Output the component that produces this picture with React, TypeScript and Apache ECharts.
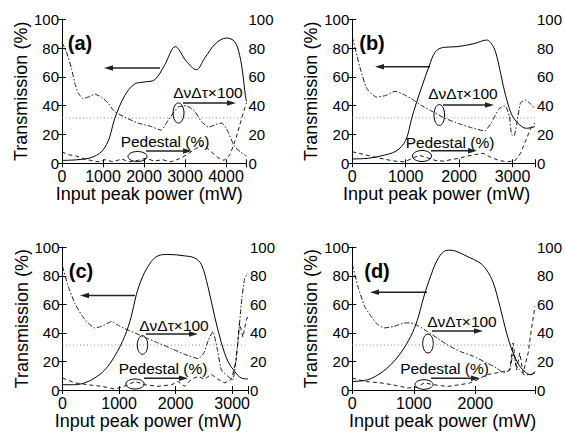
import React, { useEffect, useRef } from 'react';
import * as echarts from 'echarts';

const FONT = '"Liberation Sans", Arial, Helvetica, sans-serif';

// ---------- data ----------
const panelTags = ['(a)', '(b)', '(c)', '(d)'];
const xMaxes = [4500, 3420, 3280, 2970];
const xTicks = [0, 1000, 2000, 3000, 4000];
const yTicks = [0, 20, 40, 60, 80, 100];
const tbpLimit = 31.5; // transform-limited ΔνΔτ ×100

const transA: [number, number][] = [[0,2],[390,2.5],[715,4],[960,8],[1120,15],[1200,22],[1285,31],[1530,47],[1770,55],[2015,56.5],[2260,58],[2500,68],[2765,81],[3030,71],[3275,65],[3480,73],[3740,83],[4010,87],[4211,84.5],[4333,75],[4415,61],[4472,47],[4500,43]];
const tbpA: [number, number][] = [[0,84],[100,78],[230,66],[310,56],[390,49],[510,45],[635,46],[800,48],[960,46],[1120,42],[1280,36],[1530,32],[1850,28],[2180,25.5],[2420,23],[2590,30],[2830,39],[3030,40],[3240,36],[3400,29],[3580,25],[3750,27],[3900,28],[4050,22],[4200,12],[4350,8],[4500,5]];
const pedA: [number, number][] = [[0,8],[150,6],[350,5],[550,3],[700,2],[900,1],[1050,2.5],[1250,1],[1450,3],[1650,1],[1850,2],[2050,3.5],[2250,1.5],[2450,2.5],[2650,1],[2850,3],[3050,6],[3250,10],[3450,13],[3600,9],[3800,4],[3950,2],[4100,6],[4250,18],[4400,33],[4500,42]];

const transB: [number, number][] = [[0,3],[300,3.5],[520,5],[820,8.5],[1000,16],[1110,31],[1200,42],[1300,53],[1434,67],[1557,77.5],[1710,80.5],[1960,81],[2270,83],[2515,85.6],[2640,81],[2730,70.6],[2825,54],[2920,40.5],[3010,32],[3135,26.6],[3260,24.3],[3420,25.5]];
const tbpB: [number, number][] = [[0,88],[140,67],[270,52],[450,46],[620,47],[800,50],[950,48],[1100,45],[1300,40],[1500,36],[1750,31],[2000,27.5],[2250,24.5],[2480,22.5],[2600,28],[2750,38],[2860,40],[2940,33],[2980,20],[3030,19],[3080,28],[3150,42],[3250,44],[3340,41],[3420,38]];
const pedB: [number, number][] = [[0,8],[230,6],[450,4],[650,2.5],[800,1.5],[970,1],[1100,3],[1250,5.5],[1400,4],[1550,2],[1700,1.5],[1850,2.5],[2000,3.5],[2150,5],[2300,6],[2450,7],[2600,4],[2750,2],[2900,1],[3050,2],[3150,7],[3260,17],[3350,25],[3420,28]];

const transC: [number, number][] = [[0,3.7],[215,3.7],[392,5],[569,8.4],[746,14],[922,23.6],[1100,37.6],[1217,51.6],[1300,66],[1420,79.7],[1570,90],[1688,94],[1865,95],[2160,94],[2337,92.5],[2455,88],[2570,72.7],[2690,51.6],[2810,33],[2926,20],[3045,13],[3160,8.4],[3280,7.7]];
const tbpC: [number, number][] = [[0,86.7],[100,72.7],[215,61],[333,52.8],[450,47],[570,43.5],[690,44.6],[870,48],[1000,45],[1100,43],[1280,40],[1450,37],[1690,33],[1930,29],[2160,25],[2400,22],[2500,26],[2580,35],[2660,41],[2740,28],[2810,14],[2926,9.6],[3010,7],[3100,33],[3160,60],[3220,78],[3280,82]];
const pedC: [number, number][] = [[0,8.4],[215,5],[450,3.7],[690,2.6],[922,0.7],[1100,2.6],[1280,6],[1450,3.7],[1690,2.6],[1930,3.7],[2040,6],[2160,2.6],[2280,7.5],[2400,9.6],[2510,7.5],[2630,11],[2750,7.5],[2870,5],[2990,7.5],[3070,21],[3130,47],[3190,37],[3250,49],[3280,52]];

const transD: [number, number][] = [[0,6],[252,7.2],[467,12],[628,17.8],[789,26],[950,37.6],[1058,49],[1165,65.7],[1273,79.7],[1380,91],[1487,97],[1595,98],[1702,97],[1863,93.7],[2078,89],[2186,84],[2293,75],[2400,58.6],[2508,40],[2615,26],[2723,16.6],[2830,12],[2910,10.7],[2970,13]];
const tbpD: [number, number][] = [[0,88],[91,72.7],[199,58.6],[306,51.6],[413,45.8],[520,43.5],[682,44.6],[843,47],[950,47],[1085,44.6],[1220,41],[1380,36.4],[1540,31.8],[1755,27],[1970,23.6],[2186,19],[2347,15.4],[2455,12],[2560,14],[2615,26],[2670,16.6],[2723,14],[2800,10.7],[2890,10.7],[2970,12]];
const pedD: [number, number][] = [[0,8.4],[199,6],[467,5],[736,3],[896,1.4],[1058,2],[1165,5],[1327,3.7],[1540,2.5],[1755,3.7],[1916,5],[2025,7],[2186,10.7],[2347,12],[2455,13],[2560,14],[2615,33],[2670,14],[2723,26],[2777,12],[2860,26],[2910,42],[2970,58.6]];

const transAll = [transA, transB, transC, transD];
const tbpAll = [tbpA, tbpB, tbpC, tbpD];
const pedAll = [pedA, pedB, pedC, pedD];

const yTitle = 'Transmission (%)';
const xTitle = 'Input peak power (mW)';
const tbpLabel = 'ΔνΔτ×100';
const pedLabel = 'Pedestal (%)';

// ---------- layout (pixels) ----------
const grids = [
  { left: 62, top: 19.3, width: 184.5, height: 144 },
  { left: 352.3, top: 19.3, width: 184.4, height: 144 },
  { left: 62.5, top: 247.3, width: 185.5, height: 142.7 },
  { left: 352.3, top: 247.3, width: 184.4, height: 142.7 },
];
const xTitleShift = [10, 14, 14, 2];
const ann = [
  { tag: [80, 42.5], left: [160, 104, 68], tbpText: [208, 92], tbpEll: [178.5, 113, 5.5, 10], tbpArrow: [183, 236, 103], pedText: [165, 141.5], pedEll: [137.5, 156.5, 9.5, 5], pedArrow: [146, 192, 151] },
  { tag: [372, 42.5], left: [430, 375, 66.7], tbpText: [463, 93], tbpEll: [439.3, 115, 5.3, 10.5], tbpArrow: [443, 494, 105], pedText: [450, 142], pedEll: [422, 156, 9.5, 5.5], pedArrow: [431, 477, 150.7] },
  { tag: [81, 271], left: [135, 80, 295.5], tbpText: [174, 325], tbpEll: [142.5, 345, 5.2, 9.3], tbpArrow: [146, 198, 334], pedText: [163, 368], pedEll: [135, 384, 9.2, 5], pedArrow: [144, 188, 378.3] },
  { tag: [377, 271], left: [427, 370, 292.3], tbpText: [462, 321], tbpEll: [428, 343.5, 5.3, 9.5], tbpArrow: [432, 483, 331], pedText: [444.5, 368], pedEll: [424, 384.5, 9, 4.8], pedArrow: [431, 480, 378.3] },
];

function arrow(x1: number, x2: number, y: number) {
  const dir = x2 > x1 ? 1 : -1;
  const head = 9;
  const half = 2.8;
  const color = '#222';
  return [
    { type: 'line', silent: true, shape: { x1, y1: y, x2: x2 - dir * head * 0.7, y2: y }, style: { stroke: color, lineWidth: 1.4 } },
    { type: 'polygon', silent: true, shape: { points: [[x2, y], [x2 - dir * head, y - half], [x2 - dir * head, y + half]] }, style: { fill: color } },
  ];
}

function text(t: string, x: number, y: number, font: string) {
  return {
    type: 'text', silent: true, x, y,
    style: { text: t, font, fill: '#000', align: 'center', verticalAlign: 'middle', textAlign: 'center', textVerticalAlign: 'middle' },
  };
}

function ellipse(cx: number, cy: number, rx: number, ry: number) {
  return { type: 'ellipse', silent: true, shape: { cx, cy, rx, ry }, style: { fill: 'transparent', stroke: '#000', lineWidth: 1 } };
}

export default function App() {
  const ref = useRef<HTMLDivElement>(null);
  useEffect(() => {
    if (!ref.current) return;
    const chart = echarts.init(ref.current, undefined, { renderer: 'svg' });
    const axisLine = { show: true, lineStyle: { color: '#000', width: 1 } };
    const axisTick = { show: true, inside: true, length: 4, lineStyle: { color: '#000', width: 1 } };
    const labelStyle = { color: '#000', fontFamily: FONT, fontSize: 15 };

    const xAxis: any[] = [];
    const yAxis: any[] = [];
    const series: any[] = [];
    const graphic: any[] = [];

    grids.forEach((g, i) => {
      const xMax = xMaxes[i];
      xAxis.push({
        gridIndex: i, type: 'value', position: 'bottom', min: 0, max: xMax, interval: 1000,
        axisLine, axisTick, splitLine: { show: false },
        axisLabel: { ...labelStyle, fontSize: 16, margin: 5, formatter: (v: number) => (xTicks.includes(v) ? String(v) : '') },
        name: xTitle, nameLocation: 'middle', nameGap: i < 2 ? 20 : 21,
        nameTextStyle: { color: '#000', fontFamily: FONT, fontSize: 18, padding: [0, xTitleShift[i], 0, 0] },
      });
      xAxis.push({
        gridIndex: i, type: 'value', position: 'top', min: 0, max: xMax, interval: 1000,
        axisLine, axisTick, splitLine: { show: false }, axisLabel: { show: false },
      });
      yAxis.push({
        gridIndex: i, type: 'value', position: 'left', min: 0, max: 100, interval: 20,
        axisLine, axisTick, splitLine: { show: false },
        axisLabel: { ...labelStyle, margin: 3, formatter: (v: number) => (yTicks.includes(v) ? String(v) : '') },
        name: yTitle, nameLocation: 'middle', nameGap: 32,
        nameTextStyle: { color: '#000', fontFamily: FONT, fontSize: 18 },
      });
      yAxis.push({
        gridIndex: i, type: 'value', position: 'right', min: 0, max: 100, interval: 20,
        axisLine, axisTick, splitLine: { show: false },
        axisLabel: { ...labelStyle, margin: 2, formatter: (v: number) => (yTicks.includes(v) ? String(v) : '') },
      });
      series.push({
        type: 'line', xAxisIndex: 2 * i, yAxisIndex: 2 * i + 1, data: [[0, tbpLimit], [xMax, tbpLimit]],
        symbol: 'none', lineStyle: { color: '#888', width: 1, type: [1, 2.5] }, silent: true,
      });
      series.push({
        type: 'line', xAxisIndex: 2 * i, yAxisIndex: 2 * i, data: transAll[i], smooth: 0.35,
        symbol: 'none', lineStyle: { color: '#000', width: 1 }, silent: true,
      });
      series.push({
        type: 'line', xAxisIndex: 2 * i, yAxisIndex: 2 * i + 1, data: tbpAll[i], smooth: 0.15,
        symbol: 'none', lineStyle: { color: '#000', width: 0.9, type: [5, 2, 1.5, 2] }, silent: true,
      });
      series.push({
        type: 'line', xAxisIndex: 2 * i, yAxisIndex: 2 * i + 1, data: pedAll[i],
        symbol: 'none', lineStyle: { color: '#000', width: 0.9, type: [4, 3] }, silent: true,
      });

      const a = ann[i];
      graphic.push(text(panelTags[i], a.tag[0], a.tag[1], `bold 20px ${FONT}`));
      graphic.push(...arrow(a.left[0], a.left[1], a.left[2]));
      graphic.push(text(tbpLabel, a.tbpText[0], a.tbpText[1], `15.5px ${FONT}`));
      graphic.push(ellipse(a.tbpEll[0], a.tbpEll[1], a.tbpEll[2], a.tbpEll[3]));
      graphic.push(...arrow(a.tbpArrow[0], a.tbpArrow[1], a.tbpArrow[2]));
      graphic.push(text(pedLabel, a.pedText[0], a.pedText[1], `15.5px ${FONT}`));
      graphic.push(ellipse(a.pedEll[0], a.pedEll[1], a.pedEll[2], a.pedEll[3]));
      graphic.push(...arrow(a.pedArrow[0], a.pedArrow[1], a.pedArrow[2]));
    });

    chart.setOption({
      animation: false,
      backgroundColor: '#fff',
      grid: grids.map((g) => ({ ...g, containLabel: false })),
      xAxis, yAxis, series, graphic,
    });
    return () => chart.dispose();
  }, []);
  return <div ref={ref} style={{ position: 'fixed', left: 0, top: 0, width: 565, height: 433 }} />;
}
